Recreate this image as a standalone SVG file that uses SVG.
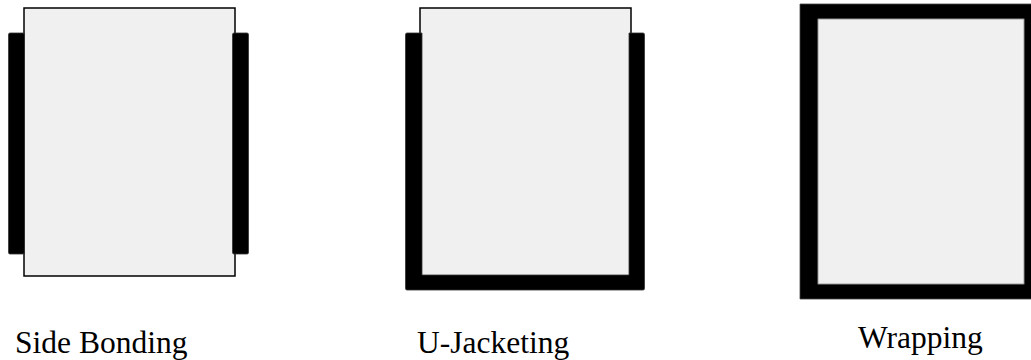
<svg xmlns="http://www.w3.org/2000/svg" width="1031" height="360" viewBox="0 0 1031 360">
<style>
.beam{fill:#f0f0f0;stroke:#000;stroke-width:1.5}
.frp{fill:#000;stroke:#333;stroke-width:0.8}
.lbl{font-family:"Liberation Serif","Times New Roman",serif;font-size:31.5px;fill:#000}
</style>
<rect width="1031" height="360" fill="#fff"/>
<g id="side-bonding">
<rect class="beam" x="24" y="8" width="211" height="268"/>
<rect class="frp" x="8.5" y="33" width="16" height="221" rx="1.5"/>
<rect class="frp" x="232.5" y="33" width="16" height="221" rx="1.5"/>
<text class="lbl" x="15" y="353">Side Bonding</text>
</g>
<g id="u-jacketing">
<rect class="beam" x="420" y="8" width="211" height="268"/>
<path class="frp" d="M405.5 34.5 Q405.5 33 407 33 L422 33 L422 275 L629 275 L629 33 L643 33 Q644.5 33 644.5 34.5 L644.5 288.5 Q644.5 290 643 290 L407 290 Q405.5 290 405.5 288.5 Z"/>
<text class="lbl" x="417" y="353">U-Jacketing</text>
</g>
<g id="wrapping">
<path d="M800 4 H1045 V299 H800 Z M818 19 V284 H1024 V19 Z" fill="#000" fill-rule="evenodd" stroke="#444" stroke-width="0.8"/>
<rect x="818" y="19" width="206" height="265" fill="#f0f0f0" stroke="#888" stroke-width="0.8"/>
<text class="lbl" x="858" y="348">Wrapping</text>
</g>
<g id="connectors"/>
</svg>
